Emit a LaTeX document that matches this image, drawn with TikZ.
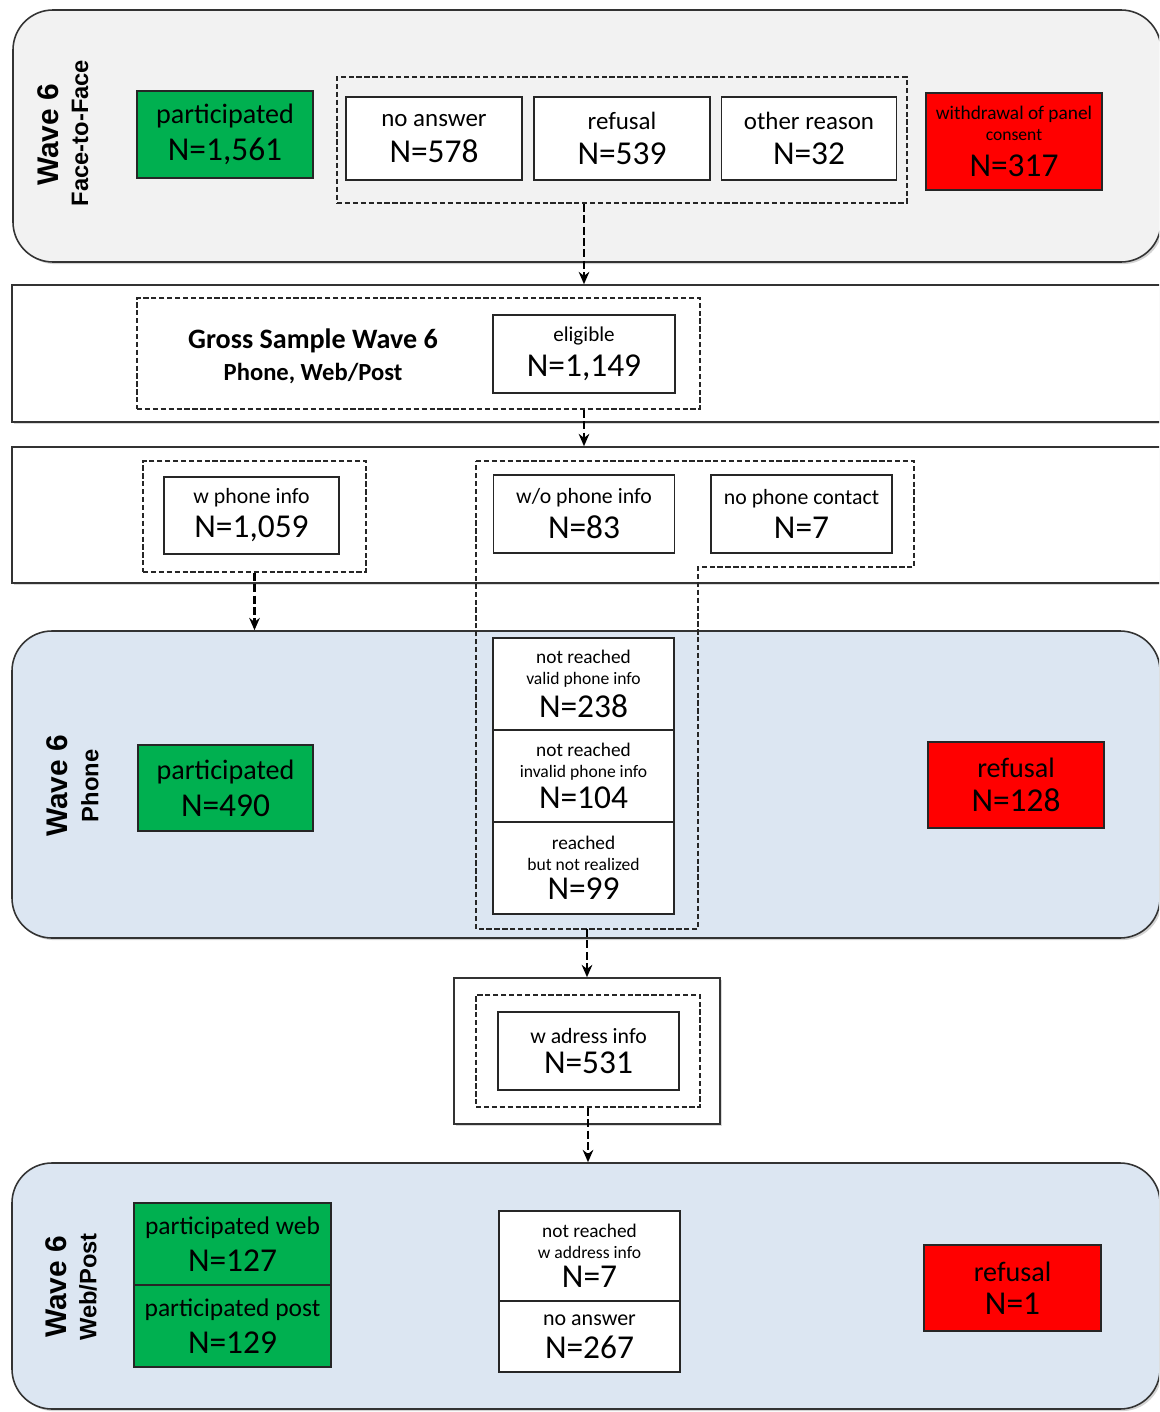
\documentclass[tikz,border=0pt]{standalone}
\usepackage{fontspec}
\setmainfont{Carlito}
\newfontfamily\wavefont{Liberation Sans}
\usetikzlibrary{arrows.meta,shadows}

\definecolor{pgreen}{HTML}{00B050}
\definecolor{pred}{HTML}{FF0000}
\definecolor{ftfgrey}{HTML}{F2F2F2}
\definecolor{wavblue}{HTML}{DCE6F2}

% one pixel of the layout
\def\px{0.02cm}

\newcommand{\stxt}{\fontsize{11}{13}\selectfont}
\newcommand{\itxt}{\fontsize{12.4}{15}\selectfont}
\newcommand{\mtxt}{\fontsize{14.2}{16}\selectfont}
\newcommand{\ltxt}{\fontsize{16}{19}\selectfont}
\newcommand{\ntxt}{\fontsize{19}{23}\selectfont}

\tikzset{
  wave/.style={draw=black!80, line width=0.9pt, rounded corners=0.8cm,
    drop shadow={shadow xshift=1.2pt, shadow yshift=-1.2pt, opacity=0.35}},
  band/.style={draw=black!80, line width=0.9pt, fill=white,
    drop shadow={shadow xshift=1pt, shadow yshift=-1pt, opacity=0.3}},
  box/.style={draw=black!85, line width=0.8pt, fill=white, align=center, inner sep=0pt},
  greenbox/.style={box, fill=pgreen},
  redbox/.style={box, fill=pred},
  grp/.style={draw=black!85, line width=0.9pt, dash pattern=on 3pt off 1.5pt},
  flow/.style={line width=1.2pt, dash pattern=on 4.5pt off 2pt, -{Stealth[length=7pt,width=6pt]}},
  wavelabel/.style={rotate=90, font=\wavefont\bfseries\fontsize{17}{19}\selectfont},
  wavesub/.style={rotate=90, font=\wavefont\bfseries\fontsize{13.5}{15}\selectfont},
}

\begin{document}
\begin{tikzpicture}[x=\px, y=-\px]
	\pgfmathsetmacro{\xmid}{584}
	\pgfmathsetmacro{\xright}{1014}

	\useasboundingbox (0,0) rectangle (1159,1412);
	\clip (0,0) rectangle (1159,1412);

	%Containers
	\draw (587,136) node[wave, fill=ftfgrey, minimum width=1148*\px, minimum height=252*\px] (ftf) {};
	\draw (593,353.5) node[band, minimum width=1162*\px, minimum height=137*\px] (gross) {};
	\draw (593,515) node[band, minimum width=1162*\px, minimum height=136*\px] (split) {};
	\draw (586,784.5) node[wave, fill=wavblue, minimum width=1148*\px, minimum height=307*\px] (phone) {};
	\draw (587,1051) node[band, minimum width=266*\px, minimum height=146*\px] (adrout) {};
	\draw (586,1286) node[wave, fill=wavblue, minimum width=1148*\px, minimum height=246*\px] (webpost) {};

	%Wave labels
	\draw (48,135) node[wavelabel] (wftf) {Wave 6};
	\draw (80,133) node[wavesub] (sftf) {Face-to-Face};
	\draw (57,786) node[wavelabel] (wphone) {Wave 6};
	\draw (90,786) node[wavesub] (sphone) {Phone};
	\draw (56,1287) node[wavelabel] (wpost) {Wave 6};
	\draw (88,1287) node[wavesub] (spost) {Web/Post};

	%Dashed groups
	\draw (622,140) node[grp, minimum width=570*\px, minimum height=126*\px] (grpftf) {};
	\draw (418.5,353.5) node[grp, minimum width=563*\px, minimum height=111*\px] (grpgross) {};
	\draw (254.5,516.5) node[grp, minimum width=223*\px, minimum height=111*\px] (grpw) {};
	\draw (588,1051) node[grp, minimum width=224*\px, minimum height=112*\px] (grpadr) {};
	\draw[grp] (476,461) -- (914,461) -- (914,567) -- (698,567) -- (698,929) -- (476,929) -- cycle;
	\coordinate (grpwo) at (587,929);

	%Face-to-Face
	\draw (225,134.5) node[greenbox, minimum width=176*\px, minimum height=87*\px] (partftf) {\ltxt participated\\[5pt]\ntxt N=1,561};
	\draw (434,138.5) node[box, minimum width=176*\px, minimum height=83*\px] (noans) {\mtxt no answer\\[6.5pt]\ntxt N=578};
	\draw (622,138.5) node[box, minimum width=176*\px, minimum height=83*\px] (refftf) {\mtxt refusal\\[6.5pt]\ntxt N=539};
	\draw (809,138.5) node[box, minimum width=175*\px, minimum height=83*\px] (other) {\mtxt other reason\\[6.5pt]\ntxt N=32};
	\draw (\xright,141.5) node[redbox, minimum width=176*\px, minimum height=97*\px] (withdraw) {\stxt withdrawal of panel\\consent\\[7pt]\ntxt N=317};

	%Gross sample
	\draw (313,356) node[align=center, font=\bfseries] (grosstitle) {\fontsize{16}{17}\selectfont Gross Sample Wave 6\\[5pt]\fontsize{14}{15}\selectfont Phone, Web/Post};
	\draw (\xmid,354) node[box, minimum width=182*\px, minimum height=78*\px] (elig) {\fontsize{12}{14}\selectfont eligible\\[4.5pt]\ntxt N=1,149};

	%Phone info
	\draw (251.5,515.5) node[box, minimum width=175*\px, minimum height=77*\px] (wphinfo) {\itxt w phone info\\[4pt]\ntxt N=1,059};
	\draw (\xmid,514) node[box, minimum width=181*\px, minimum height=78*\px] (wophinfo) {\itxt w/o phone info\\[4pt]\ntxt N=83};
	\draw (801.5,514) node[box, minimum width=181*\px, minimum height=78*\px] (nocontact) {\itxt no phone contact\\[4pt]\ntxt N=7};

	%Phone
	\draw (225.5,788) node[greenbox, minimum width=175*\px, minimum height=86*\px] (partphone) {\ltxt participated\\[5pt]\ntxt N=490};
	\draw (583.5,684) node[box, minimum width=181*\px, minimum height=92*\px] (nrvalid) {\stxt not reached\\valid phone info\\[3pt]\ntxt N=238};
	\draw (583.5,776) node[box, minimum width=181*\px, minimum height=92*\px] (nrinvalid) {\stxt not reached\\invalid phone info\\[3pt]\ntxt N=104};
	\draw (583.5,868) node[box, minimum width=181*\px, minimum height=92*\px] (notreal) {\stxt reached\\but not realized\\[3pt]\ntxt N=99};
	\draw (1016,785) node[redbox, minimum width=176*\px, minimum height=86*\px] (refphone) {\ltxt refusal\\[5.5pt]\ntxt N=128};

	%Address
	\draw (588.5,1051) node[box, minimum width=181*\px, minimum height=78*\px] (wadr) {\itxt w adress info\\[4pt]\ntxt N=531};

	%Web/Post
	\draw (232.5,1244) node[greenbox, minimum width=197*\px, minimum height=82*\px] (partweb) {\fontsize{14.5}{17}\selectfont participated web\\[5pt]\ntxt N=127};
	\draw (232.5,1326) node[greenbox, minimum width=197*\px, minimum height=82*\px] (partpost) {\fontsize{14.5}{17}\selectfont participated post\\[5pt]\ntxt N=129};
	\draw (589.5,1256) node[box, minimum width=181*\px, minimum height=90*\px] (nradr) {\stxt not reached\\w address info\\[3.5pt]\ntxt N=7};
	\draw (589.5,1336.5) node[box, minimum width=181*\px, minimum height=71*\px] (noanspost) {\fontsize{12.5}{15}\selectfont no answer\\[5pt]\ntxt N=267};
	\draw (1012.5,1288) node[redbox, minimum width=177*\px, minimum height=86*\px] (refpost) {\ltxt refusal\\[5.5pt]\ntxt N=1};

	%Flow arrows
	\draw[flow] (grpftf.south -| elig) -- (gross.north -| elig);
	\draw[flow] (grpgross.south -| elig) -- (split.north -| elig);
	\draw[flow] (grpw.south) -- (phone.north -| grpw);
	\draw[flow] (grpwo) -- (adrout.north);
	\draw[flow] (grpadr.south) -- (webpost.north -| grpadr);
\end{tikzpicture}
\end{document}
